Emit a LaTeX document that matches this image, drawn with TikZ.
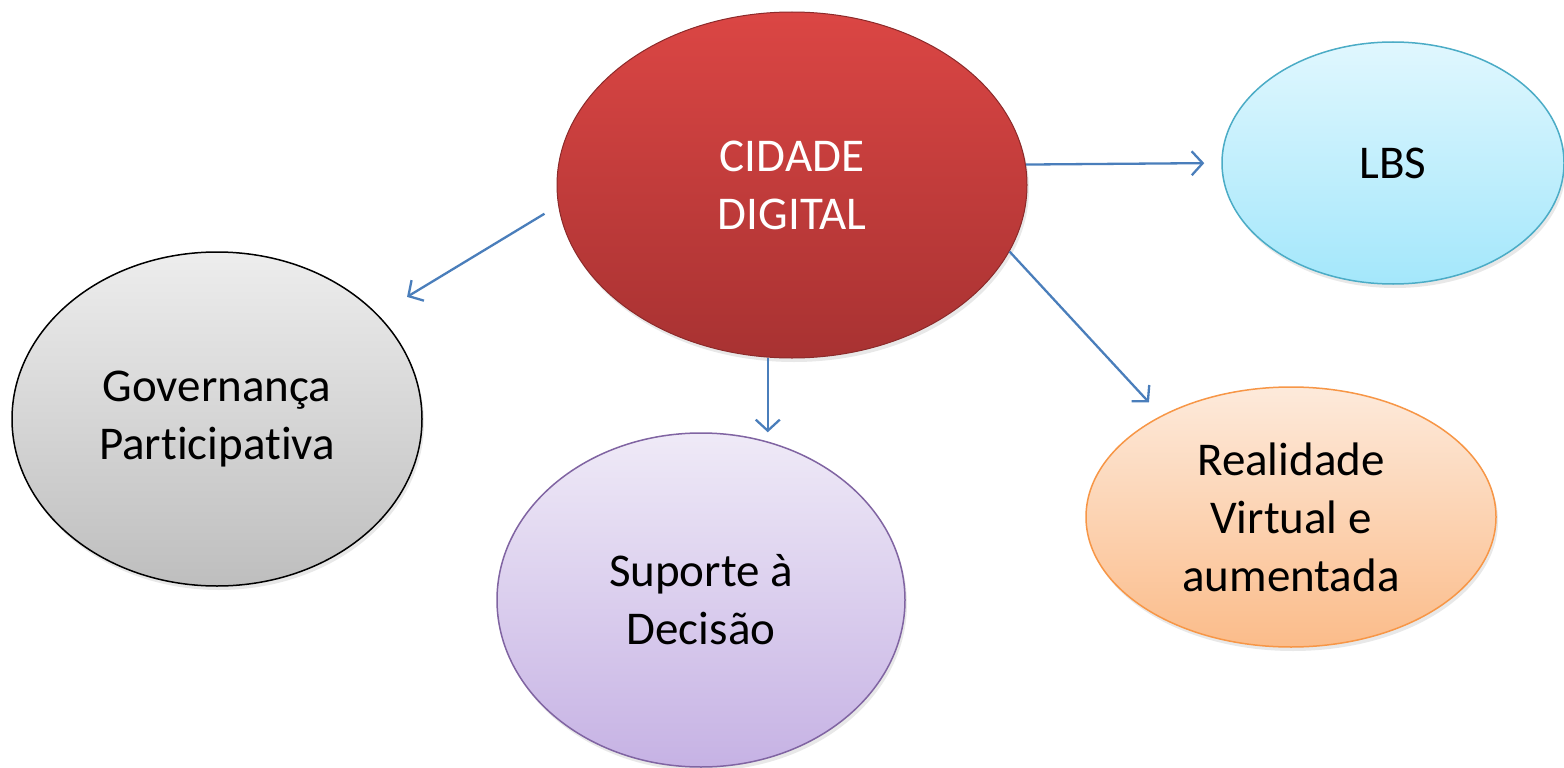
\documentclass[tikz,border=0pt]{standalone}
\usepackage{fontspec}
\setmainfont{Carlito}[Ligatures=NoCommon]
\usetikzlibrary{arrows.meta,shapes.geometric,shadows}
\definecolor{arrowblue}{HTML}{4A7EBB}
\definecolor{cdtop}{HTML}{DB4644}
\definecolor{cdbot}{HTML}{A83232}
\definecolor{cdline}{HTML}{8C2A2A}
\definecolor{lbstop}{HTML}{E0F7FE}
\definecolor{lbsbot}{HTML}{A4E7FB}
\definecolor{lbsline}{HTML}{4BACC6}
\definecolor{govtop}{HTML}{EDEDED}
\definecolor{govbot}{HTML}{BEBEBE}
\definecolor{suptop}{HTML}{EFEAF7}
\definecolor{supbot}{HTML}{C6B2E4}
\definecolor{supline}{HTML}{8064A2}
\definecolor{realtop}{HTML}{FDEADB}
\definecolor{realbot}{HTML}{FBBC8A}
\definecolor{realline}{HTML}{F79646}
\tikzset{
  bubble/.style={ellipse, inner sep=0pt, align=center, line width=1.5pt,
    font={\fontsize{47}{58}\selectfont},
    drop shadow={opacity=0.18, shadow xshift=2pt, shadow yshift=-4pt}},
  arr/.style={draw=arrowblue, line width=2.3pt,
    -{Straight Barb[length=11pt, width=24pt, line width=2.3pt]}}
}
\begin{document}
\begin{tikzpicture}[x=1pt, y=-1pt]
\useasboundingbox[fill=white] (0,0) rectangle (1564,768);
\node[bubble, minimum width=470pt, minimum height=346pt, top color=cdtop, bottom color=cdbot, draw=cdline, text=white, line width=1pt] (cd) at (792,185) {CIDADE\\DIGITAL};
\node[bubble, minimum width=342pt, minimum height=242pt, top color=lbstop, bottom color=lbsbot, draw=lbsline] (lbs) at (1393,163) {LBS};
\node[bubble, minimum width=410pt, minimum height=334pt, top color=govtop, bottom color=govbot, draw=black] (gov) at (217,419) {Governança\\Participativa};
\node[bubble, minimum width=408pt, minimum height=334pt, top color=suptop, bottom color=supbot, draw=supline] (sup) at (701,600) {Suporte à\\Decisão};
\node[bubble, minimum width=410pt, minimum height=260pt, top color=realtop, bottom color=realbot, draw=realline] (real) at (1291,517) {Realidade\\Virtual e\\aumentada};
\draw[arr, shorten >=17pt] (cd.5) -- (lbs.west);
\draw[arr, shorten <=16pt, shorten >=34pt] (cd.185) -- (gov.33);
\draw[arr] (cd.262) -- (cd.262 |- sup.north);
\draw[arr, shorten <=0pt, shorten >=18pt] (cd.343) -- (real.142);
\end{tikzpicture}
\end{document}
